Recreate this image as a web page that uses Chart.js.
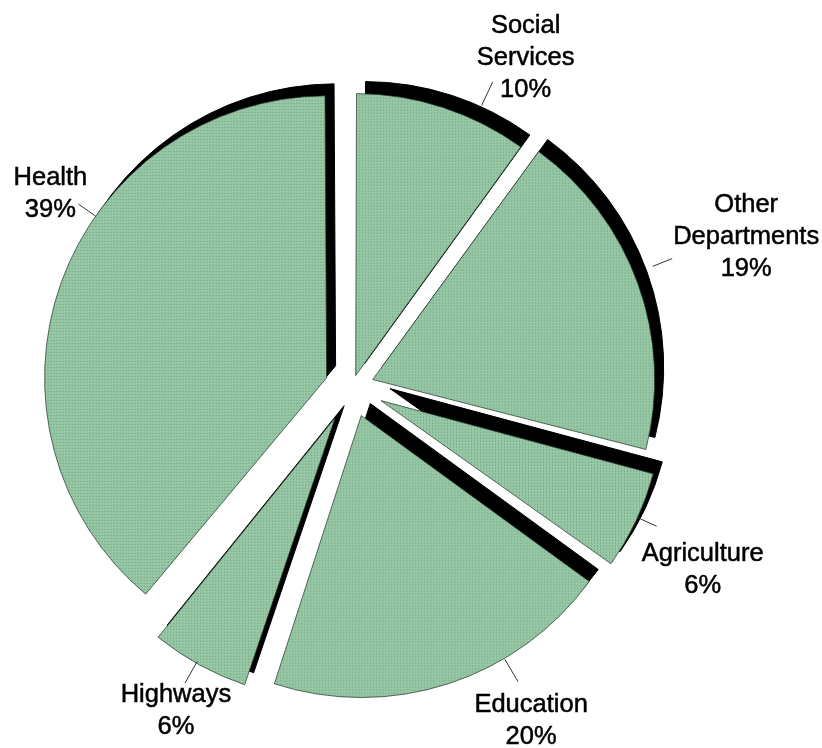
<!DOCTYPE html>
<html>
<head>
<meta charset="utf-8">
<title>Spending by department</title>
<script src="https://cdn.jsdelivr.net/npm/chart.js@4.4.1/dist/chart.umd.min.js"></script>
<style>
  html, body { margin: 0; padding: 0; background: #fff; }
  canvas { display: block; }
</style>
</head>
<body>
<canvas id="pie" width="822" height="748"></canvas>
<script>
// departments, clockwise from 12 o'clock
const categories = ['Social Services', 'Other Departments', 'Agriculture', 'Education', 'Highways', 'Health'];
const shares = [10, 19, 6, 20, 6, 39];
const labelLines = [['Social', 'Services'], ['Other', 'Departments'], ['Agriculture'], ['Education'], ['Highways'], ['Health']];

const RADIUS = 282;
// how far each slice is pulled out from the middle, in px
const explode = [12, 22, 32, 30, 35, 27];
// black "depth" copy behind every slice
const SHADOW = { x: 9, y: -12 };

// where each callout sits: angle from 12 o'clock (deg, measured at the slice tip),
// gap past the rim, tick length, and text block offset from the tick end
const callouts = [
  { angle: 25,    gap: 16, len: 26, dx: 33,  dy: -24 },
  { angle: 68,    gap: 20, len: 21, dx: 74,  dy: -22 },
  { angle: 114.5, gap: 0,  len: 21, dx: 46,  dy: 44 },
  { angle: 149.5, gap: 1,  len: 26, dx: 13,  dy: 39 },
  { angle: 209.5, gap: -2, len: 25, dx: -9,  dy: 28 },
  { angle: 305,   gap: 0,  len: 21, dx: -28, dy: -10 }
];

function makeTexture() {
  const c = document.createElement('canvas');
  c.width = 3; c.height = 3;
  const g = c.getContext('2d');
  g.fillStyle = '#97c8a5';
  g.fillRect(0, 0, 3, 3);
  g.fillStyle = '#6c977d';
  g.fillRect(1, 1, 1, 1);
  return g.createPattern(c, 'repeat');
}
const green = makeTexture();

// tip of a slice after the arc element's own offset translation
function sliceTip(arc) {
  const half = (arc.startAngle + arc.endAngle) / 2;
  const t = (arc.options.offset || 0) / 4;
  return { x: arc.x + Math.cos(half) * t, y: arc.y + Math.sin(half) * t };
}

// arcs grow their radius by offset*fix when exploded; undo so every slice has the same rim
const evenRadius = {
  id: 'evenRadius',
  afterDatasetUpdate(chart, args) {
    args.meta.data.forEach(arc => {
      const t = (arc.options.offset || 0) / 4;
      const fix = 1 - Math.sin(Math.min(Math.PI, arc.circumference));
      arc.outerRadius = RADIUS - t * fix;
    });
  }
};

const depthShadow = {
  id: 'depthShadow',
  beforeDatasetsDraw(chart) {
    const ctx = chart.ctx;
    chart.getDatasetMeta(0).data.forEach(arc => {
      const ghost = Object.create(arc);
      ghost.options = Object.assign({}, arc.options, { backgroundColor: '#000', borderColor: '#000' });
      ctx.save();
      ctx.translate(SHADOW.x, SHADOW.y);
      ghost.draw(ctx);
      ctx.restore();
    });
  }
};

const callout = {
  id: 'callout',
  afterDatasetsDraw(chart) {
    const ctx = chart.ctx;
    ctx.save();
    ctx.font = '25.5px "Liberation Sans", Arial, sans-serif';
    ctx.textAlign = 'center';
    ctx.textBaseline = 'middle';
    chart.getDatasetMeta(0).data.forEach((arc, i) => {
      const c = callouts[i];
      const tip = sliceTip(arc);
      const a = c.angle * Math.PI / 180;
      const ux = Math.sin(a), uy = -Math.cos(a);
      const r0 = RADIUS + c.gap, r1 = r0 + c.len;
      const x0 = tip.x + ux * r0, y0 = tip.y + uy * r0;
      const x1 = tip.x + ux * r1, y1 = tip.y + uy * r1;
      ctx.strokeStyle = '#333';
      ctx.lineWidth = 1;
      ctx.beginPath();
      ctx.moveTo(x0, y0);
      ctx.lineTo(x1, y1);
      ctx.stroke();

      const lines = labelLines[i].concat([shares[i] + '%']);
      const lh = 32;
      const cx = x1 + c.dx, cy = y1 + c.dy;
      ctx.fillStyle = '#000';
      ctx.strokeStyle = '#000';
      ctx.lineWidth = 0.5;
      lines.forEach((s, k) => {
        const ty = cy + (k - (lines.length - 1) / 2) * lh;
        ctx.fillText(s, cx, ty);
        ctx.strokeText(s, cx, ty);
      });
    });
    ctx.restore();
  }
};

new Chart(document.getElementById('pie'), {
  type: 'pie',
  data: {
    labels: categories,
    datasets: [{
      data: shares,
      backgroundColor: green,
      borderColor: 'rgba(30,50,40,0.7)',
      borderWidth: 1,
      offset: explode.map(v => v * 4),
      radius: RADIUS
    }]
  },
  options: {
    responsive: false,
    animation: false,
    events: [],
    layout: { padding: { left: 0, right: 118, top: 26, bottom: 0 } },
    plugins: {
      legend: { display: false },
      tooltip: { enabled: false }
    }
  },
  plugins: [evenRadius, depthShadow, callout]
});
</script>
</body>
</html>
